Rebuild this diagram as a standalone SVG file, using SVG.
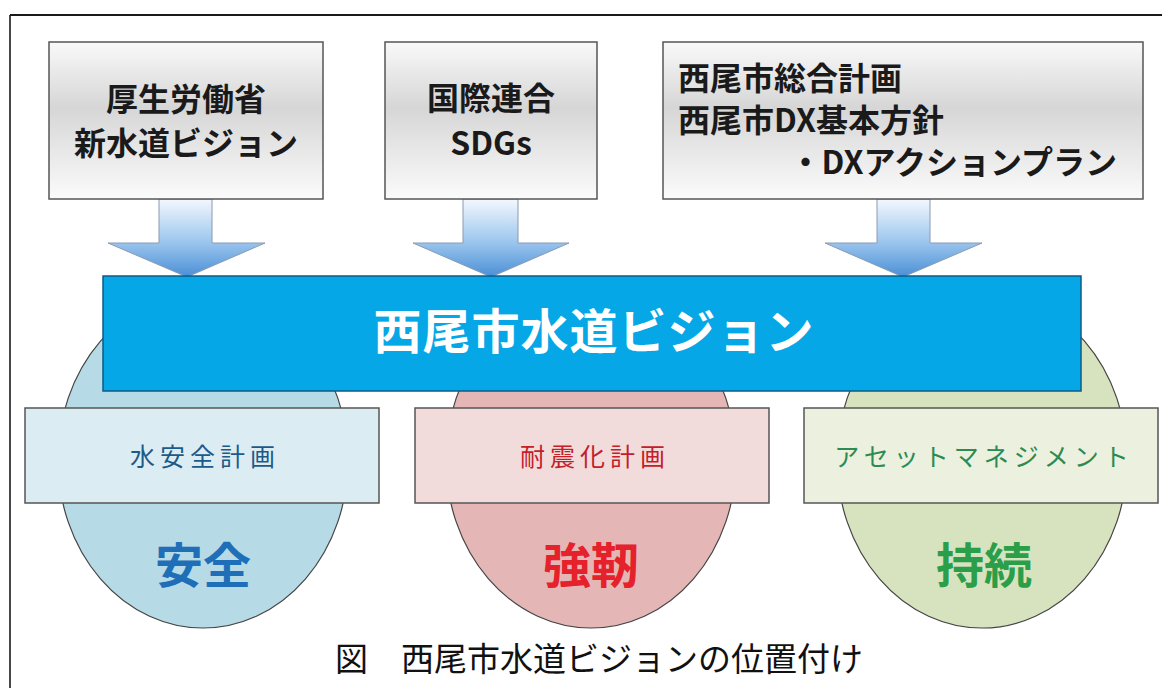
<svg xmlns="http://www.w3.org/2000/svg" width="1162" height="688" viewBox="0 0 1162 688">
<defs>
<linearGradient id="gBox" x1="0" y1="0" x2="0" y2="1">
<stop offset="0" stop-color="#f9f9f9"/>
<stop offset="0.42" stop-color="#d6d6d6"/>
<stop offset="1" stop-color="#fbfbfb"/>
</linearGradient>
<linearGradient id="gArrow" gradientUnits="userSpaceOnUse" x1="0" y1="199" x2="0" y2="277">
<stop offset="0" stop-color="#f4f8fd"/>
<stop offset="0.55" stop-color="#9cc6ee"/>
<stop offset="1" stop-color="#4a8fd6"/>
</linearGradient>
<style>
text{font-family:'Noto Sans CJK JP','Noto Sans CJK SC',sans-serif}
.src{fill:url(#gBox);stroke:#555;stroke-width:1.5}
.st{font-size:32px;font-weight:700;fill:#1a1a1a}
.arr{fill:url(#gArrow);stroke:#8a9bb0;stroke-width:1}
.ell{stroke:#444;stroke-width:1.2}
.sub{stroke:#555;stroke-width:1.5}
.subt{font-size:25px;letter-spacing:5px;text-anchor:middle}
.big{font-size:48px;font-weight:700;text-anchor:middle}
</style>
</defs>
<rect width="1162" height="688" fill="#fff"/>
<g id="frame" stroke="#1a1a1a" fill="none">
<line x1="10" y1="15" x2="1162" y2="15" stroke-width="2.2"/>
<line x1="10" y1="15" x2="10" y2="688" stroke-width="1.6"/>
</g>
<g id="ellipses">
<g id="ell-safe"><ellipse class="ell" cx="203" cy="460" rx="145" ry="168" fill="#b7dbe6"/></g>
<g id="ell-strong"><ellipse class="ell" cx="591" cy="460" rx="145" ry="168" fill="#e4b7b6"/></g>
<g id="ell-sustain"><ellipse class="ell" cx="982" cy="460" rx="145" ry="168" fill="#d7e3bf"/></g>
</g>
<g id="connectors">
<path class="arr" d="M159,199 H212 V243 H265 L187,277 L108,243 H159 Z"/>
<path class="arr" d="M463,199 H518 V243 H569 L491,277 L413,243 H463 Z"/>
<path class="arr" d="M877,199 H930 V243 H982 L903,277 L825,243 H877 Z"/>
</g>
<g id="mhlw">
<rect class="src" x="49" y="42" width="274" height="157"/>
<text class="st" x="186" y="111" text-anchor="middle">厚生労働省</text>
<text class="st" x="186" y="155" text-anchor="middle">新水道ビジョン</text>
</g>
<g id="un">
<rect class="src" x="385" y="42" width="212" height="157"/>
<text class="st" x="491" y="110" text-anchor="middle">国際連合</text>
<text class="st" x="491" y="155" text-anchor="middle">SDGs</text>
</g>
<g id="nishio-plans">
<rect class="src" x="663" y="42" width="480" height="157"/>
<text class="st" x="678" y="90">西尾市総合計画</text>
<text class="st" x="678" y="132">西尾市DX基本方針</text>
<text class="st" x="1117" y="174" text-anchor="end">・DXアクションプラン</text>
</g>
<g id="vision">
<rect x="103" y="276" width="978" height="115" fill="#06a7e6" stroke="#0b5c86" stroke-width="1.5"/>
<text x="594" y="349" text-anchor="middle" font-size="48" font-weight="700" fill="#ffffff" letter-spacing="1">西尾市水道ビジョン</text>
</g>
<g id="plan-wsp">
<rect class="sub" x="25" y="408" width="354" height="95" fill="#dbedf3"/>
<text class="subt" x="205" y="466" fill="#1c5a8a">水安全計画</text>
</g>
<g id="plan-quake">
<rect class="sub" x="415" y="408" width="354" height="95" fill="#f2dcdb"/>
<text class="subt" x="595" y="466" fill="#c3202a">耐震化計画</text>
</g>
<g id="plan-asset">
<rect class="sub" x="804" y="408" width="354" height="95" fill="#ebf1de"/>
<text class="subt" x="984" y="466" fill="#2e8a52">アセットマネジメント</text>
</g>
<g id="label-safe"><text class="big" x="203" y="583" fill="#1e6fb8">安全</text></g>
<g id="label-strong"><text class="big" x="591" y="583" fill="#e5212b">強靭</text></g>
<g id="label-sustain"><text class="big" x="984" y="583" fill="#2b9e4a">持続</text></g>
<g id="caption">
<text x="599" y="671" text-anchor="middle" font-size="33" fill="#111">図　西尾市水道ビジョンの位置付け</text>
</g>
</svg>
